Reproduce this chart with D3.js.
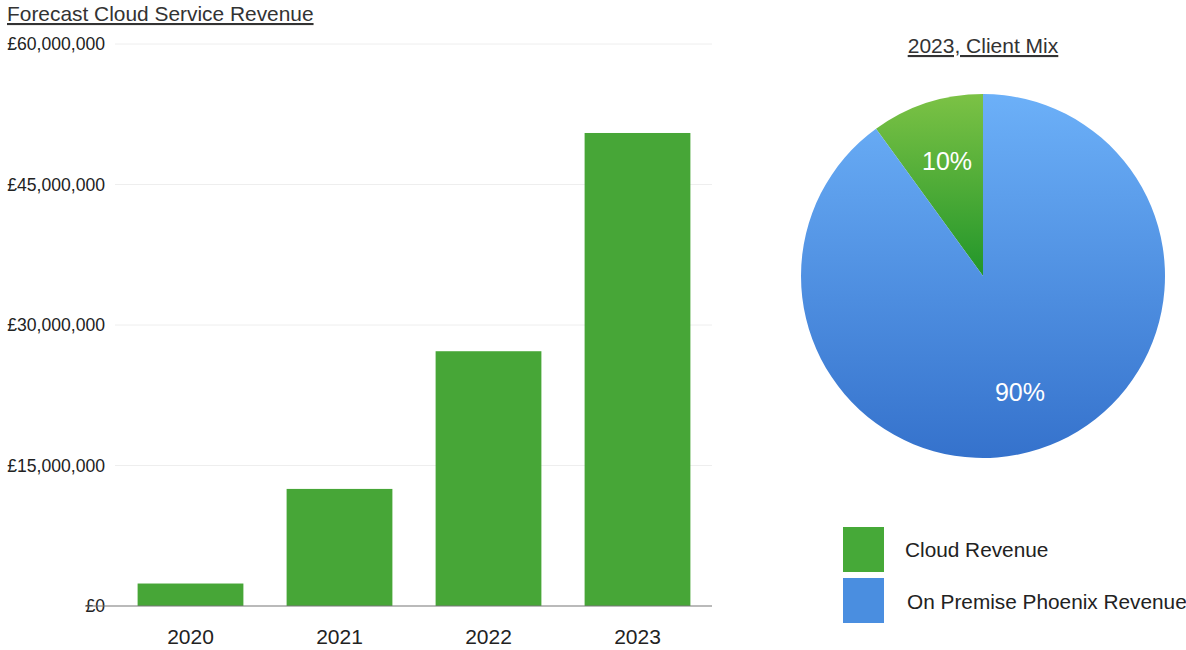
<!DOCTYPE html>
<html><head><meta charset="utf-8">
<script src="https://cdn.jsdelivr.net/npm/d3@7"></script>
<style>body{margin:0;background:#fff;font-family:"Liberation Sans",Arial,sans-serif;}</style>
</head><body>
<svg id="c" width="1186" height="650"></svg>
<script>
const years = ["2020","2021","2022","2023"];
const revenue = [2400000, 12500000, 27200000, 50500000];
const yTicks = [0, 15000000, 30000000, 45000000, 60000000];
const mixLabels = ["Cloud Revenue","On Premise Phoenix Revenue"];
const mixValues = [10, 90];

const svg = d3.select("#c");
const font = "'Liberation Sans', Arial, sans-serif";
const txtColor = "#222";

// Bar chart
const x = d3.scaleBand().domain(years).range([116, 712]).paddingInner(0.29).paddingOuter(0.145);
const y = d3.scaleLinear().domain([0, 60000000]).range([606, 44]);

svg.append("text").attr("x", 7).attr("y", 21).attr("font-family", font).attr("font-size", 20.9)
  .attr("fill", "#333").attr("text-decoration", "underline").text("Forecast Cloud Service Revenue");

// gridlines
svg.append("g").selectAll("line").data(yTicks.filter(d => d > 0)).join("line")
  .attr("x1", 115).attr("x2", 712).attr("y1", d => y(d)).attr("y2", d => y(d))
  .attr("stroke", "#eeeeee").attr("stroke-width", 1);

const fmt = d => "£" + d3.format(",")(d);
const yAxis = svg.append("g").attr("transform", "translate(105,0)")
  .call(d3.axisLeft(y).tickValues(yTicks).tickFormat(fmt).tickSize(0).tickPadding(0));
yAxis.select(".domain").remove();
yAxis.selectAll("text").attr("font-family", font).attr("font-size", 17.6).attr("fill", txtColor);

svg.append("g").selectAll("rect").data(years).join("rect")
  .attr("x", d => x(d)).attr("width", x.bandwidth())
  .attr("y", (d, i) => y(revenue[i])).attr("height", (d, i) => y(0) - y(revenue[i]))
  .attr("fill", "#47a637");

svg.append("line").attr("x1", 85).attr("x2", 712).attr("y1", y(0)).attr("y2", y(0))
  .attr("stroke", "#777").attr("stroke-width", 1.2);

const xAxis = svg.append("g").attr("transform", `translate(0,${y(0)})`)
  .call(d3.axisBottom(x).tickSize(0).tickPadding(23));
xAxis.select(".domain").remove();
xAxis.selectAll("text").attr("font-family", font).attr("font-size", 21).attr("fill", txtColor);

// Pie chart
const defs = svg.append("defs");
const cx = 983, cy = 276, r = 182;
const gB = defs.append("linearGradient").attr("id", "gBlue").attr("gradientUnits", "userSpaceOnUse")
  .attr("x1", 0).attr("y1", -r).attr("x2", 0).attr("y2", r);
gB.append("stop").attr("offset", "0%").attr("stop-color", "#6cb0f8");
gB.append("stop").attr("offset", "100%").attr("stop-color", "#3572cc");
const gG = defs.append("linearGradient").attr("id", "gGreen").attr("gradientUnits", "userSpaceOnUse")
  .attr("x1", 0).attr("y1", -r).attr("x2", 0).attr("y2", 0);
gG.append("stop").attr("offset", "0%").attr("stop-color", "#7cc245");
gG.append("stop").attr("offset", "100%").attr("stop-color", "#22962a");

svg.append("text").attr("x", cx).attr("y", 53).attr("text-anchor", "middle").attr("font-family", font)
  .attr("font-size", 21).attr("fill", "#333").attr("text-decoration", "underline").text("2023, Client Mix");

const a0 = 2 * Math.PI * mixValues[0] / 100;
const pie = d3.pie().sort(null).startAngle(-a0).endAngle(2 * Math.PI - a0);
const arcs = pie(mixValues);
const arc = d3.arc().innerRadius(0).outerRadius(r);
const pg = svg.append("g").attr("transform", `translate(${cx},${cy})`);
const fills = ["url(#gGreen)", "url(#gBlue)"];
pg.selectAll("path").data(arcs).join("path").attr("d", arc).attr("fill", (d, i) => fills[i]);

const labelPos = [[-36, -113], [37, 118]];
pg.selectAll("text.pl").data(arcs).join("text").attr("class", "pl")
  .attr("x", (d, i) => labelPos[i][0]).attr("y", (d, i) => labelPos[i][1])
  .attr("text-anchor", "middle").attr("dominant-baseline", "middle")
  .attr("font-family", font).attr("font-size", 25).attr("fill", "#fff")
  .text(d => d.data + "%");

// Legend
const legColors = ["#46a938", "#4a8ee0"];
const lg = svg.append("g");
lg.selectAll("rect").data(mixLabels).join("rect")
  .attr("x", 843).attr("y", (d, i) => 527 + i * 51).attr("width", 41).attr("height", 45)
  .attr("fill", (d, i) => legColors[i]);
lg.selectAll("text").data(mixLabels).join("text")
  .attr("x", (d, i) => 905 + i * 2).attr("y", (d, i) => 551 + i * 52)
  .attr("dominant-baseline", "middle").attr("font-family", font).attr("font-size", 20.8).attr("fill", txtColor)
  .text(d => d);
</script>
</body></html>
